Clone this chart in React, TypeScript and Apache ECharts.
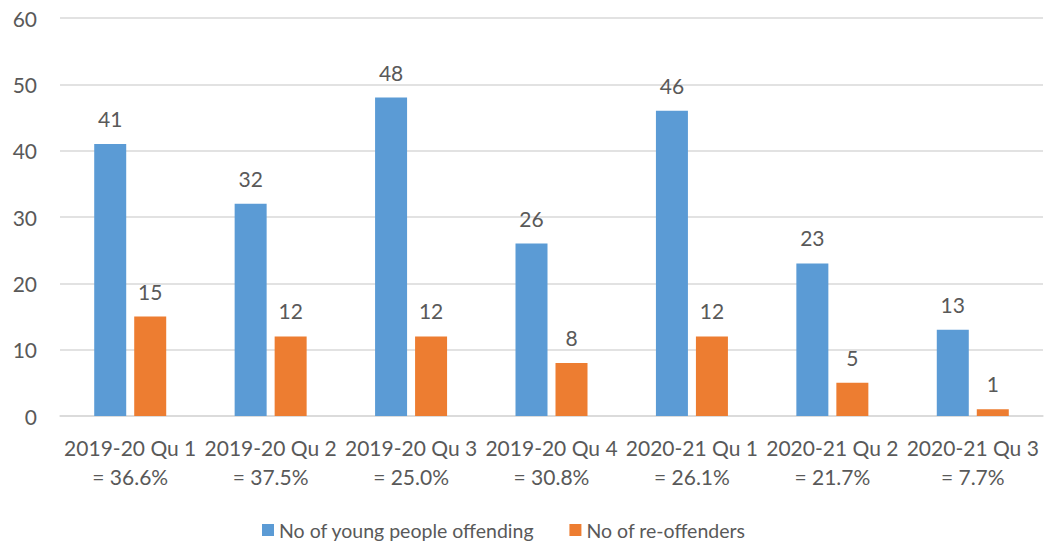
import React, { useEffect, useRef } from "react";
import * as echarts from "echarts";

const categories = [
  "2019-20 Qu 1\n= 36.6%",
  "2019-20 Qu 2\n= 37.5%",
  "2019-20 Qu 3\n= 25.0%",
  "2019-20 Qu 4\n= 30.8%",
  "2020-21 Qu 1\n= 26.1%",
  "2020-21 Qu 2\n= 21.7%",
  "2020-21 Qu 3\n= 7.7%",
];
const offending = [41, 32, 48, 26, 46, 23, 13];
const reoffenders = [15, 12, 12, 8, 12, 5, 1];
const seriesNames = ["No of young people offending", "No of re-offenders"];

const FONT = "Lato";
const TEXT = "#595959";

export default function App() {
  const ref = useRef<HTMLDivElement>(null);
  useEffect(() => {
    const chart = echarts.init(ref.current!, null, { renderer: "svg" });
    const label = {
      show: true,
      position: "top",
      distance: 15,
      color: TEXT,
      fontFamily: FONT,
      fontSize: 21,
    };
    chart.setOption({
      animation: false,
      textStyle: { fontFamily: FONT },
      grid: { left: 60, right: 1, top: 18, bottom: 125 },
      legend: {
        bottom: -4,
        left: 257,
        itemWidth: 12,
        itemHeight: 12,
        itemGap: 35,
        icon: "rect",
        textStyle: { color: TEXT, fontFamily: FONT, fontSize: 19.5 },
        data: seriesNames,
      },
      xAxis: {
        type: "category",
        data: categories,
        axisLine: { lineStyle: { color: "#D9D9D9", width: 1.5 } },
        axisTick: { show: false },
        axisLabel: {
          color: TEXT,
          fontFamily: FONT,
          fontSize: 21,
          lineHeight: 29,
          margin: 17,
          interval: 0,
        },
      },
      yAxis: {
        type: "value",
        min: 0,
        max: 60,
        interval: 10,
        axisLine: { show: false },
        axisTick: { show: false },
        splitLine: { lineStyle: { color: "#D9D9D9", width: 1.5 } },
        axisLabel: {
          color: TEXT,
          fontFamily: FONT,
          fontSize: 21,
          margin: 23,
        },
      },
      series: [
        {
          name: seriesNames[0],
          type: "bar",
          data: offending,
          barWidth: 32,
          barGap: "25%",
          itemStyle: { color: "#5B9BD5" },
          label,
        },
        {
          name: seriesNames[1],
          type: "bar",
          data: reoffenders,
          barWidth: 32,
          barGap: "25%",
          itemStyle: { color: "#ED7D31" },
          label,
        },
      ],
    });
    return () => chart.dispose();
  }, []);
  return (
    <div
      ref={ref}
      style={{ position: "fixed", left: 0, top: 0, width: 1044, height: 541, background: "#fff" }}
    />
  );
}
